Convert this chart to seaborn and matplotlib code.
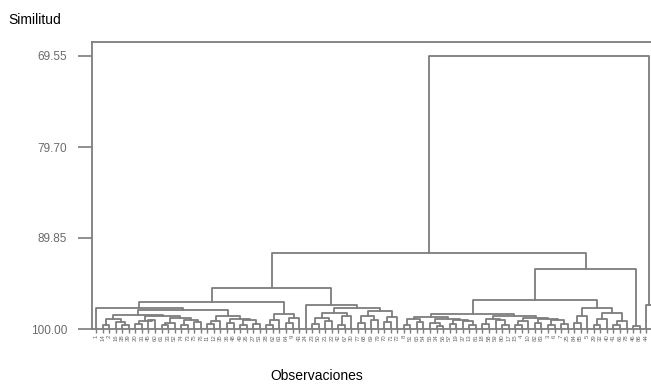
import matplotlib
matplotlib.use("Agg")
import matplotlib.pyplot as plt
import numpy as np
import pandas as pd
import seaborn as sns

# observation numbers, in leaf order (left to right)
obs_labels = [1, 14, 2, 16, 38, 39, 20, 31, 45, 60,
              61, 33, 52, 74, 73, 75, 76, 11, 12, 35,
              36, 48, 49, 26, 27, 53, 28, 62, 63, 64,
              9, 43, 24, 23, 50, 21, 22, 42, 67, 30,
              77, 68, 69, 79, 70, 71, 72, 8, 51, 65,
              54, 55, 34, 56, 57, 19, 37, 13, 81, 18,
              58, 59, 80, 17, 15, 4, 10, 82, 83, 3,
              6, 7, 25, 84, 85, 5, 29, 32, 40, 41,
              66, 78, 46, 86, 44, 47]

# cluster merges: [similarity, left, right]; ints are leaf positions
P1a = [98.4, [98.9, [99.5, 1, 2], [99.2, 3, [99.6, 4, 5]]],
       [98.6, [99.1, [99.4, 6, 7], [99.0, 8, 9]],
        [98.8, [99.3, [99.6, 10, 11], 12], [99.0, [99.5, 13, 14], [99.2, 15, 16]]]]]
P1b = [98.5, [99.1, [99.4, 17, 18], 19], [98.9, [99.3, 20, 21], [99.0, [99.6, 22, 23], [99.4, 24, 25]]]]
A1b = [98.3, [99.0, [99.5, 26, 27], 28], [98.8, [99.3, 29, 30], 31]]
A2c = [98.2, [98.8, [99.4, 33, 34], [99.1, 35, 36]], [98.6, [99.5, 37, 38], 39]]
A2d = [98.0, [98.5, [99.3, 40, 41], [99.0, 42, 43]],
       [98.7, [99.2, 44, 45], 46]]
B1a1 = [98.7, [98.9, [99.5, 47, 48], [99.2, 49, 50]],
        [98.9, [99.3, 51, [99.7, 52, 53]], [99.0, [99.4, 54, 55], [99.1, 56, [99.6, 57, 58]]]]]
B1a2 = [98.6, [98.9, [99.4, 59, 60], [99.0, 61, [99.5, 62, 63]]],
        [98.8, [99.1, [99.6, 64, 65], 66], [98.9, [99.3, 67, 68], [99.0, [99.6, 69, 70], [99.4, 71, 72]]]]]
B1b = [97.66, [98.6, [99.3, 73, 74], 75],
       [98.2, [98.9, [99.5, 76, 77], 78], [99.1, [99.6, 79, 80], 81]]]

P = [97.66, 0, [97.9, P1a, P1b]]
A1 = [96.99, P, A1b]
A2 = [97.32, 32, [97.66, A2c, A2d]]
A = [95.43, A1, A2]
B1 = [96.77, [98.33, B1a1, B1a2], B1b]
B = [93.31, B1, [99.7, 82, 83]]
L = [91.52, A, B]
R = [97.32, 84, 85]
root = [69.55, L, R]

ytick_vals = [100.00, 89.85, 79.70, 69.55]

# ---- build segments -------------------------------------------------------
rows = []
def layout(node):
    if isinstance(node, int):
        return float(node), 100.0
    h, left, right = node
    xl, yl = layout(left)
    xr, yr = layout(right)
    sid = len(rows)
    for k, (x, y) in enumerate([(xl, yl), (xl, h), (xr, h), (xr, yr)]):
        rows.append(dict(seg=sid, order=k, x=x, y=y))
    return (xl + xr) / 2, h

layout(root)
df = pd.DataFrame(rows)
df["seg"] = df.groupby("seg").ngroup()

sns.set_theme(style="white")
plt.rcParams["font.family"] = ["Liberation Sans", "DejaVu Sans"]

W, H = 651, 388
fig = plt.figure(figsize=(W / 100, H / 100), dpi=100)
px_per_leaf = 6.55
x_left = -4 / px_per_leaf
x_right = 86.0
ax_w = (x_right - x_left) * px_per_leaf
ax = fig.add_axes([92 / W, (H - 329) / H, ax_w / W, (329 - 42) / H])

line_col = "#7d7d7d"
sns.lineplot(data=df, x="x", y="y", units="seg", estimator=None, sort=False,
             color=line_col, lw=1.3, ax=ax, legend=False)

ax.set_xlim(x_left, x_right)
ax.set_ylim(100.0, 100 - 287 * (30.45 / 273))
ax.set_xlabel("")
ax.set_ylabel("")

ax.set_yticks(ytick_vals)
ax.set_yticklabels([f"{v:.2f}" for v in ytick_vals],
                   family=["Liberation Sans Narrow", "Liberation Sans", "DejaVu Sans"],
                   fontsize=8.5, color="#6a6a6a")
ax.tick_params(axis="y", length=10, width=1.2, color=line_col, pad=8, left=True)

# leaves whose label falls inside the visible figure area
px_of_leaf = 92 + 4 + px_per_leaf * np.arange(len(obs_labels))
shown = np.where(px_of_leaf < W - 4)[0]
ax.set_xticks(shown)
ax.set_xticklabels([str(obs_labels[i]) for i in shown], rotation=90, fontsize=4.3,
                   color="#6a6a6a")
ax.tick_params(axis="x", length=3, width=1.0, color=line_col, pad=1, bottom=True)

for side in ["top", "left", "bottom", "right"]:
    ax.spines[side].set_color(line_col)
    ax.spines[side].set_linewidth(1.3)

fig.text(8 / W, 1 - 20 / H, "Similitud", fontsize=10, color="black",
         ha="left", va="center")
fig.text(317 / W, 1 - 376 / H, "Observaciones", fontsize=10, color="black",
         ha="center", va="center")

fig.savefig("out.png", dpi=100)
